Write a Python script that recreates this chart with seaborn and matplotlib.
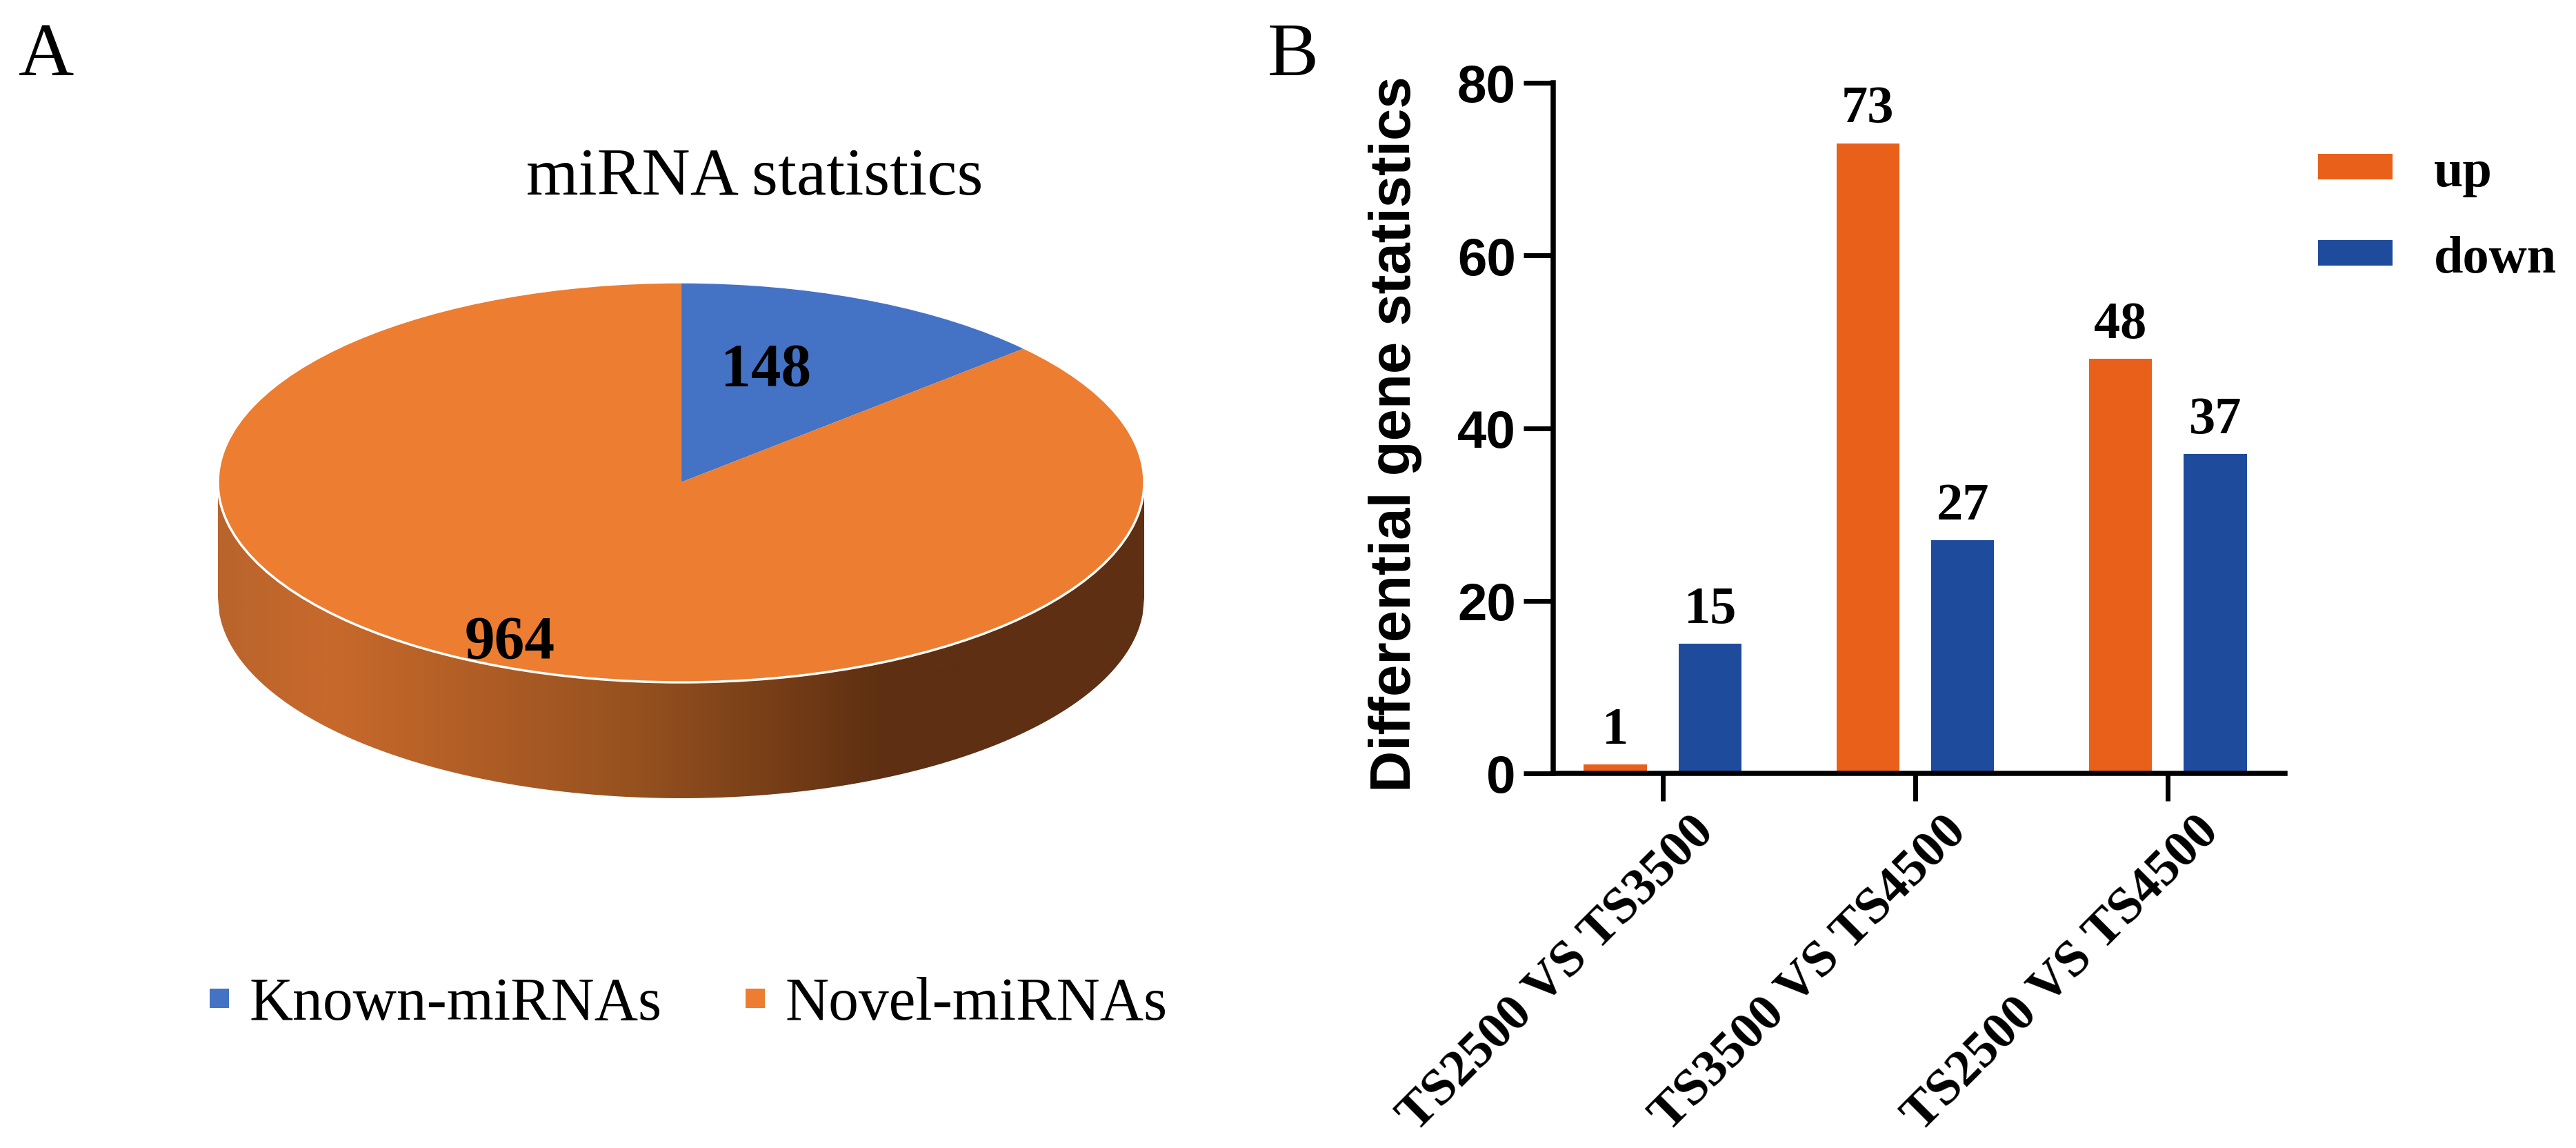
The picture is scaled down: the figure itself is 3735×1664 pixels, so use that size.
import numpy as np
import pandas as pd
import matplotlib
matplotlib.use("Agg")
import matplotlib.pyplot as plt
import seaborn as sns
from matplotlib.colors import LinearSegmentedColormap
from matplotlib.patches import Polygon, Ellipse
from matplotlib.lines import Line2D
from matplotlib.transforms import ScaledTranslation

# ---------------- data ----------------
mirna_types = ["Known-miRNAs", "Novel-miRNAs"]
mirna_counts = [148, 964]
mirna_colors = ["#4472C4", "#ED7D31"]

comparisons = ["TS2500 VS TS3500", "TS3500 VS TS4500", "TS2500 VS TS4500"]
directions = ["up", "down"]
up_counts = [1, 73, 48]
down_counts = [15, 27, 37]
bar_colors = ["#E9601A", "#1F4B9D"]
y_ticks = [0, 20, 40, 60, 80]

# ---------------- style ----------------
sns.set_theme(style="white")
plt.rcParams["font.family"] = ["Liberation Serif", "DejaVu Serif"]
plt.rcParams["text.color"] = "black"
plt.rcParams["axes.labelcolor"] = "black"
plt.rcParams["xtick.color"] = "black"
plt.rcParams["ytick.color"] = "black"

W, H, DPI = 3735, 1665, 100
fig = plt.figure(figsize=(W / DPI, H / DPI), dpi=DPI)
fig.patch.set_facecolor("white")


def fx(px):
    return px / W


def fy(py):
    return 1 - py / H


# ================= Panel A : 3D-looking pie =================
pie_left, pie_right = 316, 1659
ell_top, ell_cy = 410, 700
b_px = ell_cy - ell_top
depth_px = 168
depth = depth_px / b_px
ax_pie = fig.add_axes([fx(pie_left), fy(ell_cy + b_px + depth_px),
                       (pie_right - pie_left) / W, (2 * b_px + depth_px) / H])

# side wall of the pie (gradient, clipped to the wall shape)
xs = np.linspace(-1, 1, 600)
top_curve = -np.sqrt(np.clip(1 - xs ** 2, 0, None))
bot_curve = top_curve - depth
verts = np.concatenate([np.column_stack([xs, top_curve]),
                        np.column_stack([xs[::-1], bot_curve[::-1]])])
side = Polygon(verts, closed=True, facecolor="none", edgecolor="none")
ax_pie.add_patch(side)
side_cmap = LinearSegmentedColormap.from_list(
    "side", [(0.0, "#B9642C"), (0.12, "#C8692C"), (0.45, "#96511F"),
             (0.72, "#5E2F12"), (1.0, "#5E3014")])
grad = np.linspace(0, 1, 512).reshape(1, -1)
im = ax_pie.imshow(grad, extent=(-1, 1, -1 - depth, 0), aspect="auto",
                   cmap=side_cmap, interpolation="bilinear", zorder=1)
im.set_clip_path(side)

wedges, _ = ax_pie.pie(mirna_counts, colors=mirna_colors, startangle=90,
                       counterclock=False, radius=1, center=(0, 0),
                       wedgeprops=dict(linewidth=0, edgecolor="none"))
for w in wedges:
    w.set_zorder(2)
ax_pie.add_patch(Ellipse((0, 0), 2, 2, fill=False, edgecolor="white",
                         linewidth=2.5, zorder=3))
ax_pie.set_aspect("auto")
ax_pie.set_xlim(-1, 1)
ax_pie.set_ylim(-1 - depth, 1)
ax_pie.axis("off")

ax_pie.text(0.184, 0.56, str(mirna_counts[0]), ha="center", va="center",
            fontsize=63, fontweight="bold", zorder=5)
ax_pie.text(-0.37, -0.80, str(mirna_counts[1]), ha="center", va="center",
            fontsize=63, fontweight="bold", zorder=5)

fig.text(fx(1094), fy(282), "miRNA statistics", ha="center", va="baseline",
         fontsize=70)
fig.text(fx(27), fy(109), "A", ha="left", va="baseline", fontsize=80)

pie_handles = [Line2D([], [], marker="s", linestyle="none", markersize=19.5,
                      markerfacecolor=w.get_facecolor(), markeredgewidth=0)
               for w in wedges]
fig.legend(pie_handles, mirna_types, loc="center left",
           bbox_to_anchor=(fx(300), fy(1457)), ncol=2, frameon=False,
           fontsize=63, handlelength=0.4, handletextpad=0.3,
           columnspacing=1.35, borderpad=0, borderaxespad=0)

# ================= Panel B : grouped bars =================
ax_left, ax_right, ax_top, ax_bot = 2252, 3313, 121, 1122
ax = fig.add_axes([fx(ax_left), fy(ax_bot), (ax_right - ax_left) / W,
                   (ax_bot - ax_top) / H])

df = pd.DataFrame({
    "comparison": comparisons * 2,
    "direction": ["up"] * len(up_counts) + ["down"] * len(down_counts),
    "count": up_counts + down_counts,
})
sns.barplot(data=df, x="comparison", y="count", hue="direction",
            order=comparisons, hue_order=directions, palette=bar_colors,
            width=0.752, gap=0.338, saturation=1, linewidth=0, ax=ax)

ax.set_xlim(-0.434, 2.464)
ax.set_ylim(0, 80)
ax.set_yticks(y_ticks)
ax.set_xticks(range(len(comparisons)))
ax.set_xlabel("")

for sp in ["top", "right"]:
    ax.spines[sp].set_visible(False)
for sp in ["left", "bottom"]:
    ax.spines[sp].set_linewidth(5.4)
    ax.spines[sp].set_color("black")

ax.tick_params(axis="y", left=True, length=31, width=5, pad=8, labelsize=55)
ax.tick_params(axis="x", bottom=True, length=29, width=5, pad=7)
for lab in ax.get_yticklabels():
    lab.set_fontfamily(["Liberation Sans", "DejaVu Sans"])
    lab.set_fontweight("bold")

ax.set_xticklabels(comparisons, rotation=45, ha="right", va="top",
                   rotation_mode="anchor", fontsize=54, fontweight="bold")
offset = ScaledTranslation(0.40, 0, fig.dpi_scale_trans)
for lab in ax.get_xticklabels():
    lab.set_transform(lab.get_transform() + offset)

ax.set_ylabel("Differential gene statistics", fontsize=60, fontweight="bold",
              fontfamily=["Liberation Sans", "DejaVu Sans"])
ax.yaxis.set_label_coords((2062 - ax_left) / (ax_right - ax_left), 0.4925)

for cont in ax.containers:
    ax.bar_label(cont, fmt="%.0f", padding=11, fontsize=55, fontweight="bold")

old = ax.get_legend()
handles = old.legend_handles
labels = [t.get_text() for t in old.get_texts()]
old.remove()
ax.legend(handles, labels, loc="center left",
          bbox_to_anchor=(fx(3361), fy(314)), bbox_transform=fig.transFigure,
          frameon=False, prop=dict(family="Liberation Serif", weight="bold",
                                   size=55),
          handlelength=1.41, handleheight=0.368, handletextpad=0.79,
          labelspacing=0.73, borderpad=0, borderaxespad=0)

fig.text(fx(1838), fy(109), "B", ha="left", va="baseline", fontsize=80)

fig.savefig("out.png", dpi=DPI, facecolor="white")
